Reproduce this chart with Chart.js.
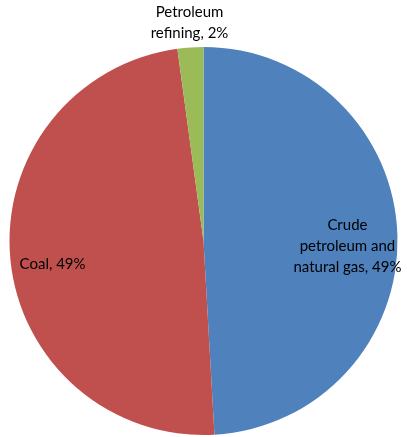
<!DOCTYPE html>
<html><head><meta charset="utf-8">
<script src="https://cdn.jsdelivr.net/npm/chart.js@4"></script>
<style>html,body{margin:0;padding:0;background:#fff}#wrap{width:407px;height:437px}</style>
</head><body><div id="wrap"><canvas id="c"></canvas></div>
<script>
const categories = ['Crude petroleum and natural gas', 'Coal', 'Petroleum refining'];
const shares = [49.1, 48.75, 2.15];
const pctLabels = ['49%', '49%', '2%'];
const labelLines = [['Crude', 'petroleum and', 'natural gas, 49%'], ['Coal, 49%'], ['Petroleum', 'refining, 2%']];
const colors = ['#4F81BD', '#C0504D', '#9BBB59'];
const labelPos = [[0.742, 0.026], [-0.778, 0.119], [-0.072, -1.124]];

const labelPlugin = {
  id: 'lbl',
  afterDatasetsDraw(chart) {
    const ctx = chart.ctx;
    const arc = chart.getDatasetMeta(0).data[0];
    const cx = arc.x, cy = arc.y, R = arc.outerRadius;
    ctx.save();
    ctx.font = '15px Lato, "Open Sans", sans-serif';
    ctx.fillStyle = '#000';
    ctx.textAlign = 'center';
    ctx.textBaseline = 'middle';
    labelLines.forEach((lines, i) => {
      const x = cx + labelPos[i][0] * R, y = cy + labelPos[i][1] * R;
      const lh = 21;
      lines.forEach((t, j) => ctx.fillText(t, x, y + (j - (lines.length - 1) / 2) * lh));
    });
    ctx.restore();
  }
};

new Chart(document.getElementById('c'), {
  type: 'pie',
  data: { labels: categories, datasets: [{ data: shares, backgroundColor: colors, borderWidth: 0 }] },
  options: {
    responsive: true, maintainAspectRatio: false, animation: false,
    layout: { padding: { top: 47, bottom: 2, left: 0, right: 0 } },
    plugins: { legend: { display: false }, tooltip: { enabled: false } }
  },
  plugins: [labelPlugin]
});
</script></body></html>
